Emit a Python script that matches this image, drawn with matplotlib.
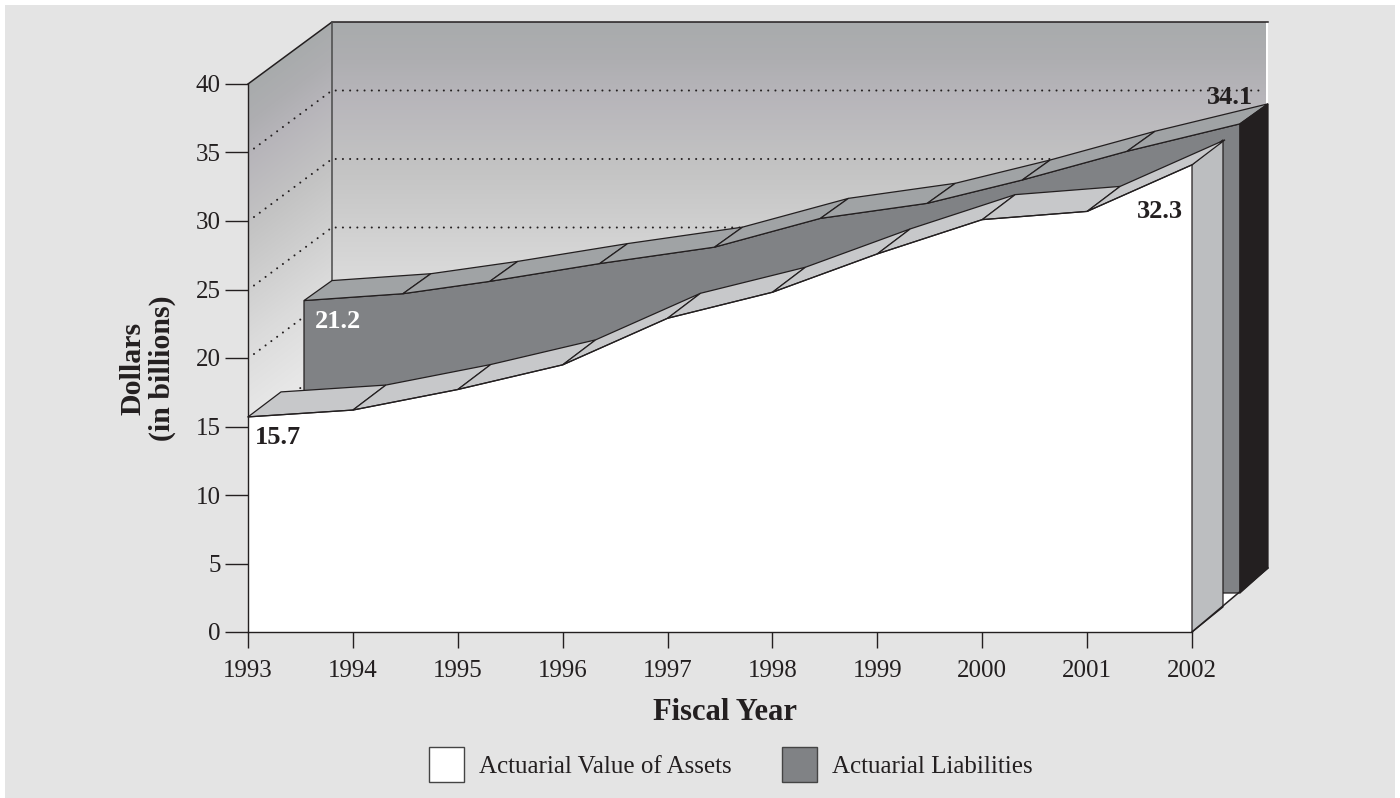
import numpy as np
import matplotlib
matplotlib.use("Agg")
import matplotlib.pyplot as plt
from matplotlib.patches import Polygon, Patch, Rectangle

years = [1993, 1994, 1995, 1996, 1997, 1998, 1999, 2000, 2001, 2002]
assets = [15.7, 16.2, 17.7, 19.5, 22.9, 24.8, 27.6, 30.1, 30.7, 34.1]
liabilities = [21.2, 21.7, 22.6, 23.9, 25.1, 27.2, 28.3, 30.0, 32.1, 34.1]
liab_shift_px = [56, 50, 32, 37, 47, 48, 50, 40, 40, 48]
y_ticks = [0, 5, 10, 15, 20, 25, 30, 35, 40]
grid_levels = [15, 20, 25, 30, 35]
series_names = ["Actuarial Value of Assets", "Actuarial Liabilities"]
label_assets_first = "15.7"
label_assets_last = "32.3"
label_liab_first = "21.2"
label_liab_last = "34.1"

W, H = 1400, 798
X0, X1, Y0, Y40 = 248, 1192, 632, 84
INK = "#231f20"
DARK = "#808285"
LIAB_TOP = "#a0a3a5"
ASSET_TOP = "#c7c8ca"
SIDE = "#bcbec0"
BG = "#e4e4e4"
SERIF = "Liberation Serif"

fig = plt.figure(figsize=(W / 100, H / 100), dpi=100, facecolor="white")
fig.patches.append(Rectangle((5 / W, 0), (W - 10) / W, (H - 5) / H, transform=fig.transFigure,
                             facecolor=BG, edgecolor="none", zorder=-10))
ax = fig.add_axes([X0 / W, 1 - Y0 / H, (X1 - X0) / W, (Y0 - Y40) / H])
ax.patch.set_alpha(0)
ax.set_xlim(years[0], years[-1])
ax.set_ylim(0, 40)

dx = (years[-1] - years[0]) / (X1 - X0)   # data units per pixel
dy = 40 / (Y0 - Y40)
yr = np.array(years, float)
A = np.array(assets, float)
L = np.array(liabilities, float)


def poly(pts, fc, ec=INK, lw=0.9, z=3, **kw):
    p = Polygon(pts, closed=True, facecolor=fc, edgecolor=ec, linewidth=lw, zorder=z,
                clip_on=False, joinstyle="miter", **kw)
    ax.add_patch(p)
    return p


# depth of the box, in pixels
BD_X, BD_Y = 84 * dx, 62 * dy
FLOOR_X, FLOOR_Y = 76 * dx, 64 * dy
left_back = yr[0] + BD_X
right_back = yr[-1] + FLOOR_X
top_back = 40 + BD_Y
floor_back = FLOOR_Y

# gradient stops (pixel row on the back wall -> grey)
stop_y = np.array([22, 60, 95, 170, 280, 355, 420])
stop_c = np.array([[0xa8, 0xab, 0xac], [0xae, 0xae, 0xb1], [0xb7, 0xb5, 0xba], [0xc4, 0xc4, 0xc4],
                   [0xdb, 0xdb, 0xdb], [0xe7, 0xe7, 0xe7], [0xec, 0xec, 0xec]], float) / 255

# white backing + floor
poly([(left_back, top_back), (right_back, top_back), (right_back, floor_back), (left_back, floor_back)],
     "white", ec="none", lw=0, z=1)
poly([(yr[0], 0), (yr[-1], 0), (right_back, floor_back), (left_back, floor_back)], "white", ec="none", lw=0, z=1)

# back wall
rows = np.arange(22, 420)
grad = np.stack([np.interp(rows, stop_y, stop_c[:, i]) for i in range(3)], axis=1)[:, None, :]
im = ax.imshow(grad, extent=(left_back, yr[-1] + 74 * dx, (Y0 - 420) * dy, (Y0 - 22) * dy),
               origin="upper", aspect="auto", zorder=1.2, interpolation="bilinear")
im.set_clip_on(False)

# left wall, gradient runs along the depth direction
xs = np.arange(248, 333)
ys = np.arange(22, 425)
XX, YY = np.meshgrid(xs, ys)
key = YY + (XX - 248) * 62 / 84 - 62
grad2 = np.stack([np.interp(key, stop_y, stop_c[:, i]) for i in range(3)], axis=2)
im2 = ax.imshow(grad2, extent=(yr[0], left_back, (Y0 - 425) * dy, (Y0 - 22) * dy),
                origin="upper", aspect="auto", zorder=1.2, interpolation="bilinear")
wall = Polygon([(yr[0], 40), (left_back, top_back), (left_back, A[0] + 2), (yr[0], A[0])],
               closed=True, transform=ax.transData, facecolor="none", edgecolor="none")
ax.add_patch(wall)
wall.set_clip_on(False)
im2.set_clip_box(fig.bbox)
im2.set_clip_path(wall)
ax.set_xlim(years[0], years[-1])
ax.set_ylim(0, 40)

# box edges
ax.plot([yr[0], left_back, yr[-1] + 76 * dx], [40, top_back, top_back], color=INK, lw=1.1, zorder=2, clip_on=False)
ax.plot([left_back, left_back], [top_back, 20], color="#4a4a4a", lw=1.1, zorder=2, clip_on=False)

# dotted grid
for v in grid_levels:
    ax.plot([yr[0] + 6 * dx, left_back, yr[-1] + 70 * dx], [v + 4 * dy, v + BD_Y, v + BD_Y], color=INK, lw=1.5,
            linestyle=(0, (0.01, 3.45)), dash_capstyle="round", zorder=2, clip_on=False)

# liabilities
lx = yr + np.array(liab_shift_px) * dx
ly = L + 41 * dy
D_X, D_Y = 28 * dx, 20 * dy
bottom_px = (Y0 - 593) * dy
poly(list(zip(lx, ly)) + [(lx[-1], bottom_px), (lx[0], bottom_px)], DARK, z=3)
for i in range(len(yr) - 1):
    poly([(lx[i], ly[i]), (lx[i + 1], ly[i + 1]), (lx[i + 1] + D_X, ly[i + 1] + D_Y), (lx[i] + D_X, ly[i] + D_Y)],
         LIAB_TOP, z=3.1)
poly([(lx[-1], ly[-1]), (lx[-1] + D_X, ly[-1] + D_Y), (lx[-1] + D_X, (Y0 - 568) * dy), (lx[-1], bottom_px)],
     INK, z=3.1)

# assets
a_x, a_y = 33 * dx, 25 * dy
poly(list(zip(yr, A)) + [(yr[-1], 0), (yr[0], 0)], "white", ec="none", lw=0, z=4)
ax.plot(yr, A, color=INK, lw=0.9, zorder=4.3, clip_on=False)
for i in range(len(yr) - 1):
    poly([(yr[i], A[i]), (yr[i + 1], A[i + 1]), (yr[i + 1] + a_x, A[i + 1] + a_y), (yr[i] + a_x, A[i] + a_y)],
         ASSET_TOP, z=4.2)
s_x = 31 * dx
poly([(yr[-1], A[-1]), (yr[-1] + s_x, A[-1] + a_y), (yr[-1] + s_x, a_y), (yr[-1], 0)], SIDE, z=4.1)
ax.plot([yr[-1], right_back], [0, floor_back], color=INK, lw=1.1, zorder=4.4, clip_on=False)

# axes furniture
for s in ("top", "right"):
    ax.spines[s].set_visible(False)
for s in ("left", "bottom"):
    ax.spines[s].set_color(INK)
    ax.spines[s].set_linewidth(1.0)
    ax.spines[s].set_zorder(5)
ax.set_xticks(years)
ax.set_yticks(y_ticks)
ax.tick_params(axis="x", length=11.5, width=1.0, color=INK, pad=8.5, labelsize=18, labelcolor=INK)
ax.tick_params(axis="y", length=16.5, width=1.0, color=INK, pad=3, labelsize=18, labelcolor=INK)
for t in ax.get_xticklabels() + ax.get_yticklabels():
    t.set_family(SERIF)
ax.set_xlabel("Fiscal Year", family=SERIF, weight="bold", fontsize=22, color=INK, labelpad=12, x=0.505)
ax.set_ylabel("Dollars\n(in billions)", family=SERIF, weight="bold", fontsize=21.5, color=INK,
              linespacing=1.12)
ax.yaxis.set_label_coords((176 - X0) / (X1 - X0), (Y0 - 368) / (Y0 - Y40))

# value labels
kw = dict(family=SERIF, weight="bold", fontsize=19, zorder=6, va="center", ha="center", clip_on=False)
ax.text(yr[0] + 30 * dx, (Y0 - 438) * dy, label_assets_first, color=INK, **kw)
ax.text(lx[0] + 34 * dx, (Y0 - 321) * dy, label_liab_first, color="white", **kw)
ax.text(yr[-1] - 32 * dx, (Y0 - 212) * dy, label_assets_last, color=INK, **kw)
ax.text(yr[-1] + 38 * dx, (Y0 - 98) * dy, label_liab_last, color=INK, **kw)

handles = [Patch(facecolor="white", edgecolor="#444444", linewidth=1.0),
           Patch(facecolor=DARK, edgecolor="#444444", linewidth=1.0)]
leg = fig.legend(handles, series_names, loc="center", bbox_to_anchor=(730.5 / W, 1 - 764.5 / H), ncol=2, frameon=False,
                 prop={"family": SERIF, "size": 18}, handlelength=1.4, handleheight=1.78, handletextpad=0.6,
                 columnspacing=2.0, borderaxespad=0, borderpad=0)
for t in leg.get_texts():
    t.set_color(INK)

fig.savefig("out.png", dpi=100, facecolor="white")
